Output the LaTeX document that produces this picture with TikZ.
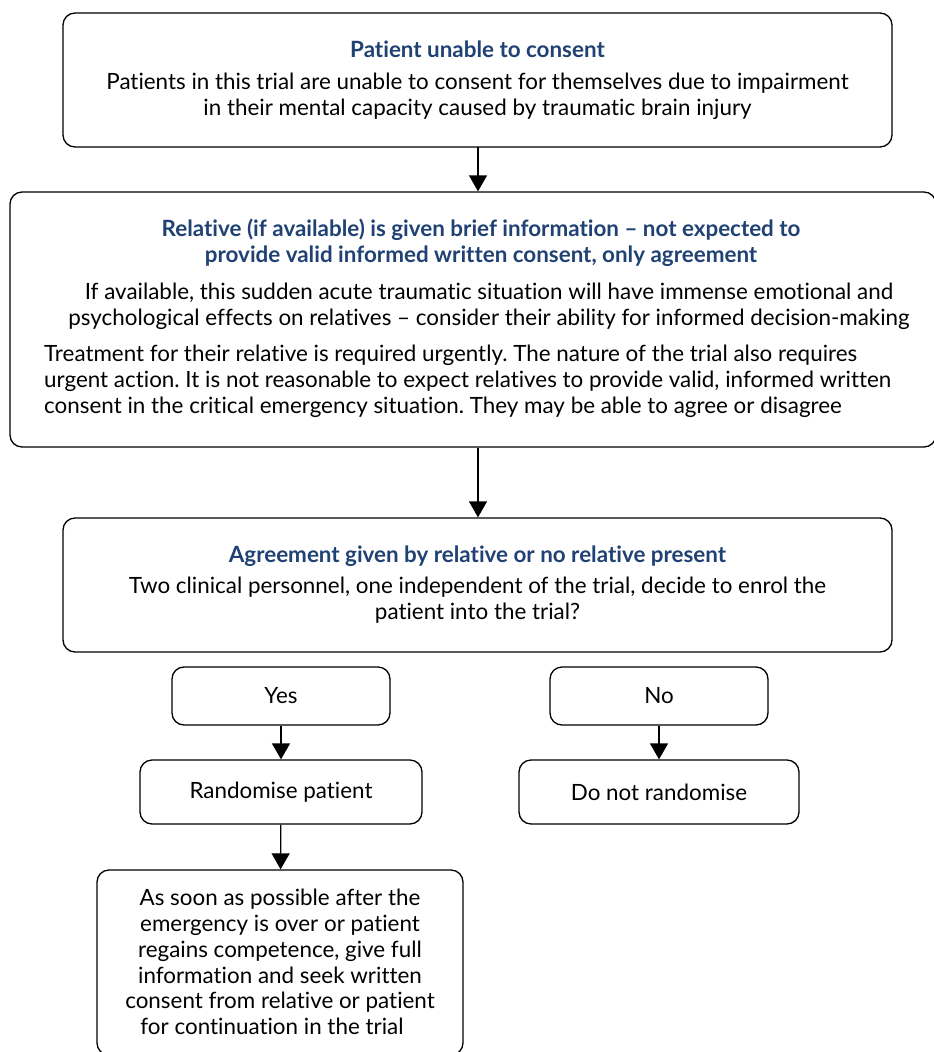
\documentclass[tikz,border=0pt]{standalone}
\usepackage{fontspec}
\setmainfont[Ligatures=NoCommon]{Lato}
\usetikzlibrary{arrows.meta}
\definecolor{headblue}{HTML}{1F4173}
\frenchspacing
\begin{document}
\begin{tikzpicture}[x=1pt,y=1pt,
  box/.style={draw=black, line width=1.3pt, rounded corners=12pt, inner sep=0pt},
  txt/.style={font=\fontsize{22.4}{25.8}\selectfont, align=center, inner sep=0pt},
  head/.style={font=\fontsize{22.4}{25.8}\selectfont\bfseries, text=headblue, align=center, inner sep=0pt},
  arr/.style={line width=1.3pt, -{Triangle[width=18pt,length=16pt]}}]
\useasboundingbox (0,0) rectangle (934,-1052);
% boxes
\node[box, minimum width=829pt, minimum height=134pt] (b1) at (477.5,-80) {};
\node[box, minimum width=926pt, minimum height=255pt] (b2) at (473,-319.5) {};
\node[box, minimum width=829pt, minimum height=134pt] (b3) at (477.5,-585) {};
\node[box, minimum width=218pt, minimum height=58pt, txt] (yes) at (281,-696) {Yes};
\node[box, minimum width=218pt, minimum height=58pt, txt] (no) at (659,-696) {No};
\node[box, minimum width=282pt, minimum height=64pt, txt] (rand) at (281,-792) {Randomise patient};
\node[box, minimum width=280pt, minimum height=64pt, txt] (dont) at (659,-792) {Do not randomise};
\node[box, minimum width=366pt, minimum height=185pt] (fin) at (280,-962.5) {};
% texts
\node[head] (t1h) at (477.5,-49) {Patient unable to consent};
\node[txt] (t1b) at (477.5,-96) {Patients in this trial are unable to consent for themselves due to impairment\\in their mental capacity caused by traumatic brain injury};
\node[head] (t2h) at (481,-243) {Relative (if available) is given brief information – not expected to\\provide valid informed written consent, only agreement};
\node[txt] (t2a) at (489,-306) {If available, this sudden acute traumatic situation will have immense emotional and\\psychological effects on relatives – consider their ability for informed decision-making};
\node[txt, align=left, anchor=west] (t2b) at (44,-381) {Treatment for their relative is required urgently. The nature of the trial also requires\\urgent action. It is not reasonable to expect relatives to provide valid, informed written\\consent in the critical emergency situation. They may be able to agree or disagree};
\node[head] (t3h) at (477.5,-556) {Agreement given by relative or no relative present};
\node[txt] (t3b) at (477.5,-600) {Two clinical personnel, one independent of the trial, decide to enrol the\\patient into the trial?};
\node[txt] (tf) at (280,-962) {As soon as possible after the\\emergency is over or patient\\regains competence, give full\\information and seek written\\consent from relative or patient\\for continuation in the trial\hspace*{16pt}};
% arrows
\draw[arr] (478,-147) coordinate (a1s) -- (a1s |- b2.north);
\draw[arr] (b2.south -| a1s) -- (a1s |- b3.north);
\draw[arr] (yes) -- (rand);
\draw[arr] (no) -- (dont);
\draw[arr] (rand) -- (fin);
\end{tikzpicture}
\end{document}
